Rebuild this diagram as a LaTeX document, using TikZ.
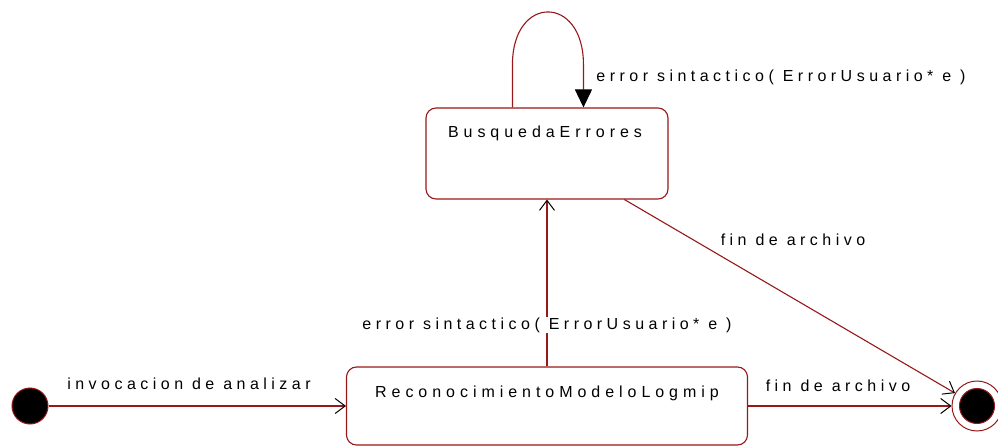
\documentclass[tikz,border=0pt]{standalone}
\usepackage{fontspec}
\setmainfont{Liberation Sans}
\newfontfamily\lblfont[LetterSpace=28]{Liberation Sans}
\newfontfamily\stfont[LetterSpace=31]{Liberation Sans}
\usetikzlibrary{arrows.meta,calc}
\definecolor{umlred}{RGB}{150,24,24}
\tikzset{
  statebox/.style={draw=umlred, line width=1.1pt, rounded corners=10pt, fill=white, inner sep=0pt},
  statename/.style={font=\stfont\fontsize{16}{18}\selectfont, inner sep=0pt, text=black},
  lbl/.style={font=\lblfont\fontsize{16}{18}\selectfont, inner sep=1pt, text=black},
  trans/.style={draw=umlred, line width=1.1pt, -{Straight Barb[length=10pt,width=15pt,black,line width=1pt]}},
  looptrans/.style={draw=umlred, line width=1.1pt, -{Triangle[length=18pt,width=17pt,black]}},
  initst/.style={circle, draw=umlred, fill=black, line width=1pt, minimum size=36pt, inner sep=0pt},
  finalouter/.style={circle, draw=umlred, fill=white, line width=1pt, minimum size=50pt, inner sep=0pt},
  finalinner/.style={circle, draw=umlred, fill=black, line width=1pt, minimum size=35pt, inner sep=0pt},
}
\begin{document}
\begin{tikzpicture}[x=1pt,y=-1pt]
\useasboundingbox (0,0) rectangle (998,446);
% states
\node[statebox, minimum width=242pt, minimum height=91pt] (B) at (547,153.5) {};
\node[statename] (Bt) at (545,133) {BusquedaErrores};
\node[statebox, minimum width=401pt, minimum height=78pt] (R) at (547,406) {};
\node[statename] (Rt) at (547,393) {ReconocimientoModeloLogmip};
\node[initst] (I) at (30,406) {};
\node[finalouter] (F) at (977,406) {};
\node[finalinner] (Fi) at (977,406) {};
% coordinates
\coordinate (la) at ($(B.north west)+(87,0)$);
\coordinate (lb) at ($(B.north west)+(158,0)$);
\coordinate (bs) at ($(B.south west)+(199,0)$);
% transitions
\draw[trans] (I) -- (R.west);
\node[lbl] (l1) at (189,384) {invocacion de analizar};
\draw[trans] (R.east) -- (F.west);
\node[lbl] (l2) at (838,386) {fin de archivo};
\draw[trans] (bs) -- (F);
\node[lbl] (l3) at (793,240) {fin de archivo};
\draw[trans] (R.north) -- (B.south);
\node[lbl, fill=white] (l4) at (547,325) {error sintactico( ErrorUsuario* e )};
\draw[looptrans] (la) -- ++(0,-43) .. controls ++(0,-70) and ($(lb)+(0,-113)$) .. ($(lb)+(0,-43)$) -- (lb);
\node[lbl] (l5) at (781,77) {error sintactico( ErrorUsuario* e )};
\end{tikzpicture}
\end{document}
